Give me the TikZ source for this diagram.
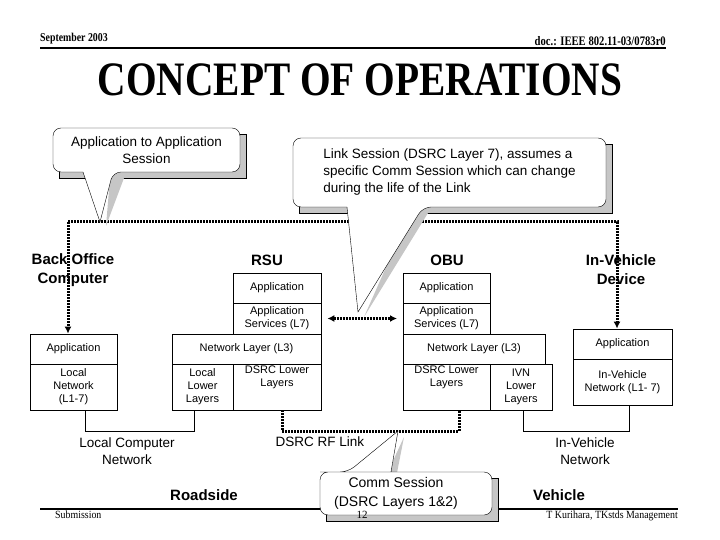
\documentclass[tikz,border=0pt]{standalone}
\usepackage{fontspec}
\setmainfont{Liberation Sans}
\newfontfamily\serifface{Liberation Serif}
\usetikzlibrary{positioning, arrows.meta}

\begin{document}
\begin{tikzpicture}[x=1pt, y=-1pt,
    layer/.style={draw, thick, minimum height=30pt, inner sep=1pt, align=center, font=\fontsize{11}{13}\selectfont},
    unit/.style={font=\fontsize{15}{19}\selectfont\bfseries, align=center},
    plain/.style={font=\fontsize{13.5}{17}\selectfont, align=center},
    session/.style={line width=3pt, dash pattern=on 2pt off 1pt, -{Latex[length=7pt,width=7pt]}},
    wire/.style={thin},
    bubble/.style={draw, fill=white, rounded corners=8pt},
    shade/.style={fill=gray!45}
  ]
  \useasboundingbox (0,0) rectangle (720,540);

  % Header and footer
  \node[anchor=south west, inner sep=0pt, font=\serifface\bfseries\fontsize{12}{14}\selectfont] (date) at (40,44) {\scalebox{0.82}[1]{September 2003}};
  \node[anchor=south east, inner sep=0pt, font=\serifface\bfseries\fontsize{13}{15}\selectfont] (doc) at (666,46) {\scalebox{0.82}[1]{doc.: IEEE 802.11-03/0783r0}};
  \draw[line width=2pt] (40,48) -- (666,48);
  \node[font=\serifface\bfseries\fontsize{48}{50}\selectfont] (title) at (360,80) {\scalebox{0.82}[1]{CONCEPT OF OPERATIONS}};
  \draw[line width=2pt] (40,509) -- (678,509);
  \node[anchor=north west, inner sep=0pt, font=\serifface\fontsize{11}{13}\selectfont] (subm) at (55,511) {\scalebox{0.9}[1]{Submission}};
  \node[anchor=north, inner sep=0pt, font=\serifface\fontsize{11}{13}\selectfont] (page) at (362,511) {12};
  \node[anchor=north east, inner sep=0pt, font=\serifface\fontsize{11}{13}\selectfont] (auth) at (678,511) {\scalebox{0.9}[1]{T Kurihara, TKstds Management}};

  % Back office computer
  \node[layer, minimum width=87pt, minimum height=30pt] (boApp) at (73.5,349) {Application};
  \node[layer, minimum width=87pt, minimum height=46pt] (boNet) at (73.5,387) {Local\\Network\\(L1-7)};
  \node[unit] (bo) at (73,270) {Back Office\\Computer};

  % RSU stack
  \node[layer, minimum width=88pt] (rsuApp) at (277,288) {Application};
  \node[layer, minimum width=88pt, minimum height=31pt] (rsuSvc) at (277,318.5) {Application\\Services (L7)};
  \node[layer, minimum width=149pt] (rsuNet) at (246.5,349) {Network Layer (L3)};
  \node[layer, minimum width=61pt, minimum height=46pt] (rsuLoc) at (202.5,387) {Local\\Lower\\Layers};
  \node[layer, minimum width=88pt, minimum height=46pt] (rsuDsrc) at (277,387) {DSRC Lower\\Layers\\[9pt]};
  \node[unit] (rsu) at (267,260) {RSU};

  % OBU stack
  \node[layer, minimum width=87pt] (obuApp) at (446.5,288) {Application};
  \node[layer, minimum width=87pt, minimum height=31pt] (obuSvc) at (446.5,318.5) {Application\\Services (L7)};
  \node[layer, minimum width=142pt] (obuNet) at (474,349) {Network Layer (L3)};
  \node[layer, minimum width=87pt, minimum height=46pt] (obuDsrc) at (446.5,387) {DSRC Lower\\Layers\\[9pt]};
  \node[layer, minimum width=62pt, minimum height=46pt] (obuIvn) at (521,387) {IVN\\Lower\\Layers};
  \node[unit] (obu) at (447,260) {OBU};

  % In-vehicle device
  \node[layer, minimum width=99pt] (ivApp) at (622.5,344) {Application};
  \node[layer, minimum width=99pt, minimum height=46pt] (ivNet) at (622.5,382) {In-Vehicle\\Network (L1- 7)};
  \node[unit] (iv) at (621,270) {In-Vehicle\\Device};

  % Wired networks
  \coordinate (lanL) at (85,431);
  \coordinate (lanR) at (194,431);
  \draw[wire] (boNet.south -| lanL) -- (lanL) -- (lanR) -- (rsuLoc.south -| lanR);
  \coordinate (ivnL) at (523,431);
  \coordinate (ivnR) at (629,431);
  \draw[wire] (obuIvn.south -| ivnL) -- (ivnL) -- (ivnR) -- (ivNet.south -| ivnR);
  \node[plain] (lan) at (127,451) {Local Computer\\Network};
  \node[plain] (ivn) at (585,451) {In-Vehicle\\Network};
  \node[plain] (rf) at (320,442) {DSRC RF Link};

  % Sessions
  \coordinate (appL) at (68,222);
  \coordinate (appR) at (617,222);
  \draw[session] (appL) -- (appR) -- (appR |- ivApp.north);
  \draw[session] (appR -| appL) -- (appL |- boApp.north);
  \draw[session, {Latex[length=7pt,width=7pt]}-{Latex[length=7pt,width=7pt]}] (rsuSvc.east) ++(6,0) coordinate (lnkL) -- (obuSvc.west -| 397,0) coordinate (lnkR);
  \coordinate (rfL) at (rsuDsrc.south -| 282,0);
  \coordinate (rfR) at (obuDsrc.south -| 459,0);
  \draw[line width=3pt, dash pattern=on 2pt off 1pt] (rfL) -- (282,431) -- (459,431) -- (rfR);

  % Callouts
  \draw[shade] (59,134) rectangle (246,178);
  \fill[shade] (110,178) -- (106,226) -- (124,178) -- cycle;
  \draw[bubble] (53,128) -- (240,128) -- (240,172) -- (113,172) [sharp corners] -- (100,222) -- (83,172) [rounded corners=8pt] -- (53,172) -- cycle;
  \node[plain] (appSes) at (146.5,150) {Application to Application\\Session};

  \draw[shade] (299,144) rectangle (612,213);
  \fill[shade] (410,213) -- (364,317) -- (428,213) -- cycle;
  \draw[bubble] (293,138) -- (606,138) -- (606,207) -- (423,207) [sharp corners] -- (358,312) -- (347,207) [rounded corners=8pt] -- (293,207) -- cycle;
  \node[plain, align=left] (linkSes) at (449.5,172.5) {Link Session (DSRC Layer 7), assumes a\\specific Comm Session which can change\\during the life of the Link};

  \draw[shade] (326,478) rectangle (498,521);
  \fill[shade] (385,478) -- (404,437) -- (396,478) -- cycle;
  \draw[bubble] (320,472) -- (492,472) -- (492,515) -- (320,515) -- (320,472) -- (348,472) [sharp corners] -- (398,431) -- (391,472);
  \node[plain, font=\fontsize{14}{19}\selectfont] (commSes) at (396,493) {Comm Session\\(DSRC Layers 1\&2)};
  \node[anchor=north, inner sep=0pt, font=\serifface\fontsize{11}{13}\selectfont] at (362,511) {12};

  % Sides
  \node[unit] (road) at (204,495) {Roadside};
  \node[unit] (veh) at (559,495) {Vehicle};
\end{tikzpicture}
\end{document}
